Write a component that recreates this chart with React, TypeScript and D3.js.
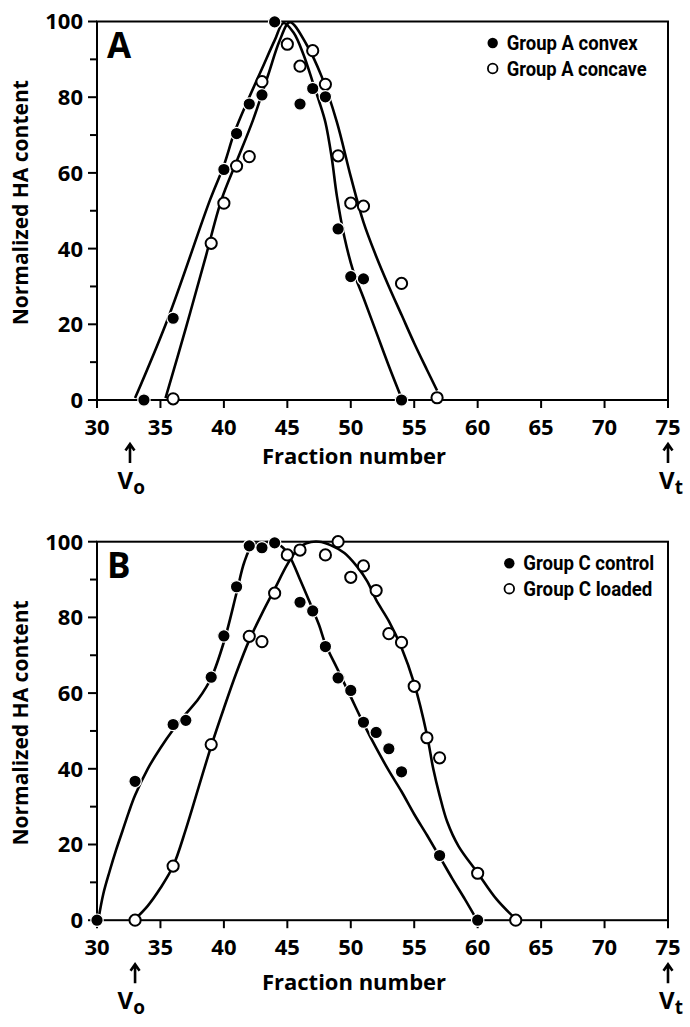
import React, { useEffect } from 'react'
import * as d3 from 'd3'

// Axis ticks
const X_TICKS = [30, 35, 40, 45, 50, 55, 60, 65, 70, 75]
const Y_MAJOR = [0, 20, 40, 60, 80, 100]
const Y_MINOR = [10, 30, 50, 70, 90]

// Panel A: measured points
const A_CONVEX_FRACTION = [33.7, 36, 40, 41, 42, 43, 44, 46, 47, 48, 49, 50, 51, 54]
const A_CONVEX_HA = [0, 21.6, 60.9, 70.4, 78.2, 80.6, 99.9, 78.2, 82.3, 80.1, 45.2, 32.6, 32.0, 0]
const A_CONCAVE_FRACTION = [36, 39, 40, 41, 42, 43, 45, 46, 47, 48, 49, 50, 51, 54, 56.8]
const A_CONCAVE_HA = [0.3, 41.4, 52.0, 61.8, 64.3, 84.1, 94.0, 88.2, 92.3, 83.4, 64.5, 52.0, 51.2, 30.8, 0.6]

// Panel A: hand-drawn fit curves
const A_CONVEX_FIT_X = [33, 35.6, 38.9, 40, 40.8, 41.8, 43, 44, 44.7, 45.5, 46.3, 47, 47.5, 48, 48.5, 48.9, 49.5, 50.2, 51, 52, 53, 54]
const A_CONVEX_FIT_Y = [0.5, 21.6, 52.8, 62, 70.4, 78.5, 87.5, 95, 99.6, 97, 91, 84, 79, 73.4, 64, 54, 43, 34, 27, 18, 9, 0.5]
const A_CONCAVE_FIT_X = [35.4, 37, 38.5, 39.8, 41, 42.3, 43.5, 44.4, 45.2, 46.5, 47.7, 48.9, 50, 51, 52, 53, 54, 55, 56, 56.8]
const A_CONCAVE_FIT_Y = [0.5, 19, 37, 52.8, 63, 74, 86, 95, 99.8, 94, 85.5, 73.5, 59, 47, 38, 30, 22.5, 15, 8, 2.5]

// Panel B: measured points
const B_CONTROL_FRACTION = [30, 33, 36, 37, 39, 40, 41, 42, 43, 44, 46, 47, 48, 49, 50, 51, 52, 53, 54, 57, 60]
const B_CONTROL_HA = [0, 36.7, 51.7, 52.8, 64.2, 75.1, 88.1, 98.9, 98.4, 99.7, 84.0, 81.7, 72.3, 64.0, 60.7, 52.3, 49.6, 45.3, 39.2, 17.1, 0]
const B_LOADED_FRACTION = [33, 36, 39, 42, 43, 44, 45, 46, 48, 49, 50, 51, 52, 53, 54, 55, 56, 57, 60, 63]
const B_LOADED_HA = [0, 14.3, 46.4, 75.0, 73.6, 86.4, 96.5, 97.8, 96.5, 100, 90.6, 93.6, 87.1, 75.7, 73.4, 61.8, 48.2, 42.9, 12.4, 0]

// Panel B: fit curves
const B_CONTROL_FIT_X = [30.1, 30.5, 31, 31.5, 32, 32.5, 33, 34, 35, 36, 37, 38, 39, 40, 41, 41.6, 42.2, 43, 44, 44.6, 45.2, 46, 46.7, 47.5, 48, 49, 50, 51, 52, 53, 54, 55, 56, 57, 58, 59, 59.9]
const B_CONTROL_FIT_Y = [0, 7, 13, 18.5, 23.5, 28.5, 33, 40, 45.5, 50.3, 54.5, 58.5, 64, 73.5, 86.5, 94.5, 98.8, 99.8, 99.7, 98.6, 96, 90, 84.5, 78, 73, 66, 59, 52, 45.5, 39.5, 34, 28, 22.5, 16.8, 11, 5.5, 0.3]
const B_LOADED_FIT_X = [33, 34, 35, 36, 37, 38, 39, 40, 41, 42, 43, 44, 45, 45.8, 46.5, 47.5, 48.4, 49.5, 50.5, 51.3, 52, 53, 54, 55, 56, 56.5, 57, 57.6, 58.5, 60, 61.5, 63]
const B_LOADED_FIT_Y = [0.3, 3.8, 8.5, 14.3, 24, 35, 46, 56, 65.5, 74, 81, 87.5, 94, 98, 99.6, 100, 99.1, 97, 93.4, 89.5, 84.6, 79, 72, 62.5, 49, 40, 33, 26, 19.5, 12.5, 5.5, 0.3]

// Void / total volume markers (fraction number)
const VOID_A = 32.6
const VOID_B = 33
const TOTAL_VOLUME = 75

const FONT = "'Myriad Pro', 'Open Sans', 'DejaVu Sans', sans-serif"
const LEGEND_FONT = "'Liberation Sans Narrow', 'Arial Narrow', Roboto, sans-serif"

const zip = (xs: number[], ys: number[]) => xs.map((v, i) => [v, ys[i]] as [number, number])

const PLOT_H = 378.5
const X0 = 97
const X1 = 668

function Arrow({ x, y }: { x: number; y: number }) {
  return (
    <path
      d={`M${x},${y + 19} V${y + 1} M${x - 4.5},${y + 6.5} L${x},${y} L${x + 4.5},${y + 6.5}`}
      fill="none"
      stroke="#000"
      strokeWidth={2.6}
    />
  )
}

function Panel({ top, letter, filled, open, filledFit, openFit, labels, labelWidths, legendX, voidAt, titleGap }) {
  const bottom = top + PLOT_H
  const x = d3.scaleLinear().domain([30, 75]).range([X0, X1])
  const y = d3.scaleLinear().domain([0, 100]).range([bottom, top])
  const line = d3
    .line<[number, number]>()
    .x(d => x(d[0]))
    .y(d => y(d[1]))
    .curve(d3.curveCatmullRom.alpha(0.5))

  return (
    <g fontFamily={FONT} fontWeight={700}>
      {/* plot frame */}
      <rect x={X0} y={top} width={X1 - X0} height={PLOT_H} fill="none" stroke="#000" strokeWidth={2} />

      {/* y ticks */}
      {Y_MAJOR.map(t => (
        <g key={'ym' + t}>
          <line x1={X0 - 9} x2={X0} y1={y(t)} y2={y(t)} stroke="#000" strokeWidth={2} />
          <text x={X0 - 14} y={y(t)} dy="0.36em" textAnchor="end" fontSize={22}>{t}</text>
        </g>
      ))}
      {Y_MINOR.map(t => (
        <line key={'yn' + t} x1={X0 - 7} x2={X0} y1={y(t)} y2={y(t)} stroke="#000" strokeWidth={2} />
      ))}

      {/* x ticks */}
      {X_TICKS.map(t => (
        <g key={'x' + t}>
          <line x1={x(t)} x2={x(t)} y1={bottom} y2={bottom + 8} stroke="#000" strokeWidth={2} />
          <text x={x(t)} y={bottom + 35} textAnchor="middle" fontSize={22}>{t}</text>
        </g>
      ))}

      {/* fitted curves */}
      <path d={line(zip(filledFit[0], filledFit[1])) || ''} fill="none" stroke="#000" strokeWidth={2.6} />
      <path d={line(zip(openFit[0], openFit[1])) || ''} fill="none" stroke="#000" strokeWidth={2.6} />

      {/* points */}
      {zip(open[0], open[1]).map((d, i) => (
        <circle key={'o' + i} cx={x(d[0])} cy={y(d[1])} r={5.6} fill="#fff" stroke="#000" strokeWidth={2} />
      ))}
      {zip(filled[0], filled[1]).map((d, i) => (
        <circle key={'f' + i} cx={x(d[0])} cy={y(d[1])} r={6.2} fill="#000" stroke="#fff" strokeWidth={1.2} />
      ))}

      {/* panel letter */}
      <text x={X0 + 10} y={top + 36} fontSize={35}>{letter}</text>

      {/* legend */}
      <circle cx={legendX} cy={top + 21.5} r={5.2} fill="#000" />
      <circle cx={legendX} cy={top + 47} r={4.8} fill="#fff" stroke="#000" strokeWidth={1.8} />
      <text fontFamily={LEGEND_FONT} fontSize={20} x={legendX + 14} y={top + 28.5}
        textLength={labelWidths[0]} lengthAdjust="spacingAndGlyphs">{labels[0]}</text>
      <text fontFamily={LEGEND_FONT} fontSize={20} x={legendX + 14} y={top + 54}
        textLength={labelWidths[1]} lengthAdjust="spacingAndGlyphs">{labels[1]}</text>

      {/* axis titles */}
      <text x={354} y={bottom + titleGap} textAnchor="middle" fontSize={22}>Fraction number</text>
      <text transform={`translate(28,${(top + bottom) / 2 - 8}) rotate(-90)`} textAnchor="middle" fontSize={21}>
        Normalized HA content
      </text>

      {/* Vo and Vt markers */}
      <Arrow x={x(voidAt)} y={bottom + 44} />
      <text x={x(32.7)} y={bottom + 89} textAnchor="middle" fontSize={24}>
        V<tspan fontSize={19} dy={5}>o</tspan>
      </text>
      <Arrow x={x(TOTAL_VOLUME)} y={bottom + 44} />
      <text x={x(TOTAL_VOLUME) + 3} y={bottom + 89} textAnchor="middle" fontSize={24}>
        V<tspan fontSize={19} dy={5}>t</tspan>
      </text>
    </g>
  )
}

export default function App() {
  useEffect(() => {
    document.body.style.margin = '0'
  }, [])

  return (
    <svg width={690} height={1027} style={{ display: 'block', background: '#fff' }}>
      <Panel
        top={21.5}
        letter="A"
        filled={[A_CONVEX_FRACTION, A_CONVEX_HA]}
        open={[A_CONCAVE_FRACTION, A_CONCAVE_HA]}
        filledFit={[A_CONVEX_FIT_X, A_CONVEX_FIT_Y]}
        openFit={[A_CONCAVE_FIT_X, A_CONCAVE_FIT_Y]}
        labels={['Group A convex', 'Group A concave']}
        labelWidths={[131, 140]}
        legendX={492.7}
        voidAt={VOID_A}
        titleGap={64}
      />
      <Panel
        top={541.7}
        letter="B"
        filled={[B_CONTROL_FRACTION, B_CONTROL_HA]}
        open={[B_LOADED_FRACTION, B_LOADED_HA]}
        filledFit={[B_CONTROL_FIT_X, B_CONTROL_FIT_Y]}
        openFit={[B_LOADED_FIT_X, B_LOADED_FIT_Y]}
        labels={['Group C control', 'Group C loaded']}
        labelWidths={[131, 129]}
        legendX={509.3}
        voidAt={VOID_B}
        titleGap={70}
      />
    </svg>
  )
}
